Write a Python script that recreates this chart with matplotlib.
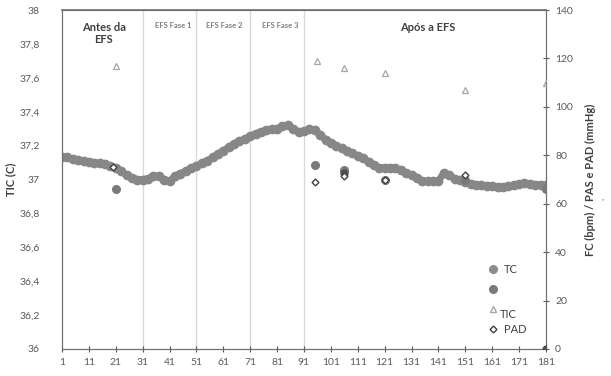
import matplotlib
matplotlib.use("Agg")
import matplotlib.pyplot as plt
from matplotlib.lines import Line2D

plt.rcParams['font.family'] = ['Lato', 'DejaVu Sans']

# TIC continuous series (left axis), sampled every 2 minutes
tic_x = list(range(1, 182, 2))
tic_y = [37.135, 37.13, 37.12, 37.115, 37.11, 37.105, 37.10, 37.095, 37.09, 37.08,
         37.07, 37.05, 37.025, 37.01, 37.0, 37.0, 37.005, 37.02, 37.02, 37.0,
         36.99, 37.02, 37.035, 37.05, 37.065, 37.08, 37.095, 37.11, 37.13, 37.15,
         37.17, 37.19, 37.21, 37.225, 37.24, 37.255, 37.27, 37.28, 37.29, 37.295,
         37.30, 37.315, 37.32, 37.30, 37.28, 37.285, 37.295, 37.29, 37.265, 37.235,
         37.215, 37.20, 37.185, 37.17, 37.155, 37.14, 37.125, 37.105, 37.085, 37.07,
         37.07, 37.07, 37.065, 37.055, 37.04, 37.025, 37.01, 36.99, 36.99, 36.99,
         36.99, 37.04, 37.025, 37.005, 36.995, 36.985, 36.975, 36.97, 36.965, 36.96,
         36.96, 36.955, 36.955, 36.96, 36.965, 36.975, 36.98, 36.975, 36.97, 36.97,
         36.965]

# Right-axis point series
fc_x = [21, 95, 106, 121, 151, 181]
fc_y = [66, 76, 74, 70, 70, 66]
tc_x = [106, 181]
tc_y = [72.5, 0]
pas_x = [21, 96, 106, 121, 151, 181]
pas_y = [117, 119, 116, 114, 107, 110]
pad_x = [20, 95, 106, 121, 151]
pad_y = [75, 69, 71.5, 70, 72]

phase_lines = [31, 51, 71, 91]
phase_labels = ["Antes da\nEFS", "EFS Fase 1", "EFS Fase 2", "EFS Fase 3", "Após a EFS"]
phase_label_x = [16.5, 42.5, 61.5, 82, 137]

x_ticks = list(range(1, 182, 10))
left_ticks = [36, 36.2, 36.4, 36.6, 36.8, 37, 37.2, 37.4, 37.6, 37.8, 38]
left_labels = ["36", "36,2", "36,4", "36,6", "36,8", "37", "37,2", "37,4", "37,6", "37,8", "38"]
right_ticks = [0, 20, 40, 60, 80, 100, 120, 140]

txt = '#595959'
fig = plt.figure(figsize=(6.11, 3.76), dpi=100)
ax = fig.add_axes([62/611, 1-349/376, (546-62)/611, (349-10)/376])
ax2 = ax.twinx()

for xv in phase_lines:
    ax.axvline(xv, color='#d9d9d9', lw=1.0, zorder=1)

ax.plot(tic_x, tic_y, color='#878787', lw=5, solid_capstyle='round', zorder=3)
ax.plot(tic_x, tic_y, 'o', color='#878787', ms=6, mec='#878787', zorder=3)

ax.set_xlim(1, 181)
ax.set_ylim(36, 38)
ax.set_xticks(x_ticks)
ax.set_xticklabels([str(v) for v in x_ticks])
ax.set_yticks(left_ticks)
ax.set_yticklabels(left_labels)
ax.tick_params(axis='y', length=0, labelsize=7.5, colors=txt, pad=16)
ax.tick_params(axis='x', direction='inout', length=5, labelsize=7.5, colors='#595959', pad=4)
for s in ['left', 'bottom', 'right', 'top']:
    ax.spines[s].set_color('#6f6f6f')
    ax2.spines[s].set_color('#6f6f6f')
ax.spines['top'].set_linewidth(1.2)

ax2.set_ylim(0, 140)
ax2.set_yticks(right_ticks)
ax2.tick_params(axis='y', direction='inout', length=5, labelsize=7.5, colors=txt, pad=4)
ax2.set_ylabel("FC (bpm) / PAS e PAD (mmHg)", fontsize=8, fontweight='bold', color='#404040', labelpad=9)
ax.set_ylabel("TIC (C)", fontsize=8, fontweight='bold', color='#404040', labelpad=2)

ax2.plot(pas_x, pas_y, '^', ms=5, mfc='none', mec='#a6a6a6', mew=0.9, zorder=4)
ax2.plot(fc_x, fc_y, 'o', ms=5.5, color='#7a7a7a', zorder=4)
ax2.plot(tc_x, tc_y, 'o', ms=5, color='#505050', zorder=5)
ax2.plot(pad_x, pad_y, 'D', ms=3.5, mfc='white', mec='#404040', mew=1.0, zorder=6)

for lbl, xv in zip(phase_labels, phase_label_x):
    big = lbl.startswith("Antes") or lbl.startswith("Após")
    ax.text(xv, 37.93, lbl, ha='center', va='top',
            fontsize=8 if big else 5.5, fontweight='bold',
            color='#404040' if big else '#7f7f7f', linespacing=1.1)

handles = [
    Line2D([], [], ls='none', marker='o', ms=5.5, color='#8c8c8c'),
    Line2D([], [], ls='none', marker='o', ms=5.5, color='#7a7a7a'),
    Line2D([], [], ls='none', marker='^', ms=5, mfc='none', mec='#a6a6a6'),
    Line2D([], [], ls='none', marker='D', ms=3.5, mfc='white', mec='#404040'),
]
leg = ax2.legend(handles, ["TC", " ", " ", "PAD"], loc='lower left',
                 frameon=False, fontsize=8,
                 handletextpad=0.5, labelspacing=0.8, handlelength=1.0)
leg.set_bbox_to_anchor((477/611, 1-345/376), transform=fig.transFigure)
for t in leg.get_texts():
    t.set_color('#404040')
fig.text(500/611, 1-315/376, "TIC", fontsize=8, color='#404040', ha='left', va='center')
fig.text(603/611, 1-200/376, "▪", fontsize=4, color='#a0a0a0', ha='center', va='center')

fig.savefig("out.png", dpi=100)
